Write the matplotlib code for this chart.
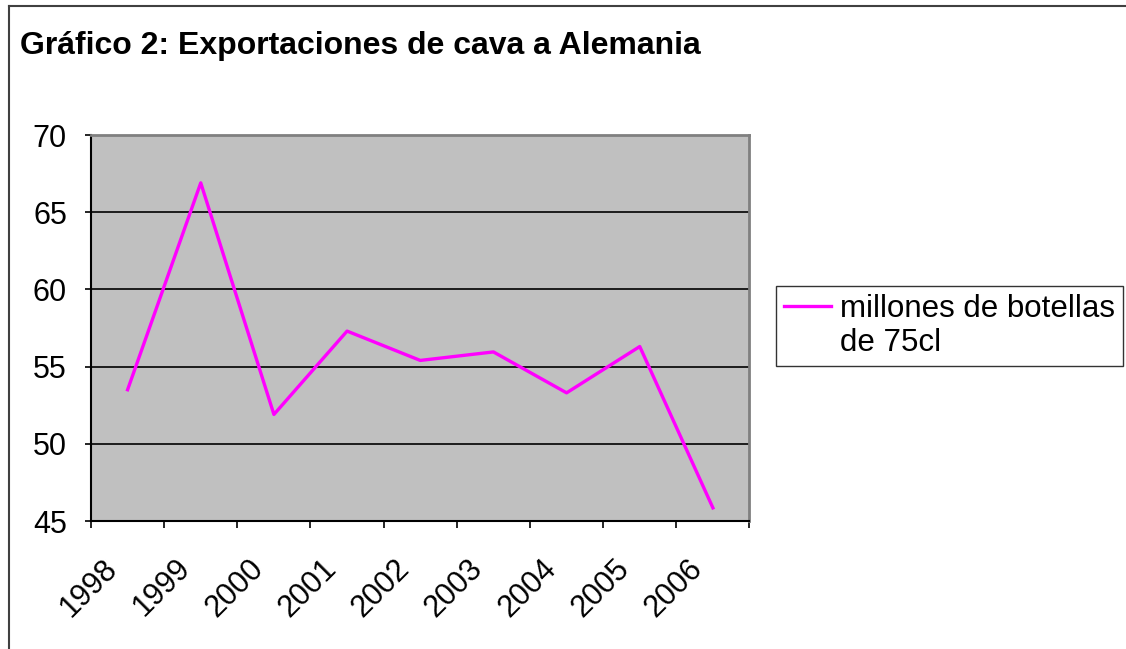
import numpy as np
import matplotlib
matplotlib.use("Agg")
import matplotlib.pyplot as plt
from matplotlib.lines import Line2D
from matplotlib.transforms import ScaledTranslation

plt.rcParams['font.family'] = ['Liberation Sans', 'DejaVu Sans']

# datos
years = ['1998', '1999', '2000', '2001', '2002', '2003', '2004', '2005', '2006']
botellas = [53.5, 66.9, 51.9, 57.3, 55.4, 55.95, 53.3, 56.3, 45.85]
serie = ['millones de botellas', 'de 75cl']
titulo = 'Gráfico 2: Exportaciones de cava a Alemania'

W, H = 1126, 649
fig = plt.figure(figsize=(W / 100, H / 100), dpi=100)
ax = fig.add_axes([91 / W, 1 - 521 / H, (749.5 - 91) / W, (521 - 135) / H])

x = np.arange(len(years))
linea, = ax.plot(x, botellas, color='#FF00FF', lw=2.4)

ax.set_facecolor('#C0C0C0')
ax.set_xlim(-0.5, len(years) - 0.5)
ax.set_ylim(45, 70)
ax.set_yticks(np.arange(45, 71, 5))
ax.grid(axis='y', color='black', lw=1.2)
ax.set_axisbelow(True)

# marcas entre categorías, etiquetas en el centro
ax.set_xticks(np.arange(-0.5, len(years), 1.0))
ax.set_xticklabels([])
ax.set_xticks(x, minor=True)
ax.set_xticklabels(years, minor=True, rotation=45, ha='right', va='center',
                   rotation_mode='anchor', fontsize=22)
ax.tick_params(axis='x', which='minor', length=0, pad=0)
ax.tick_params(axis='x', which='major', direction='out', length=5, width=1.2)
ax.tick_params(axis='y', direction='out', length=4.3, width=1.2, labelsize=22, pad=13)
off = ScaledTranslation(-15 / 100, -43 / 100, fig.dpi_scale_trans)
for lab in ax.get_xticklabels(minor=True):
    lab.set_transform(lab.get_transform() + off)

for s in ['top', 'right']:
    ax.spines[s].set_color('#808080')
    ax.spines[s].set_linewidth(2)
for s in ['left', 'bottom']:
    ax.spines[s].set_color('black')
    ax.spines[s].set_linewidth(1.5)

fig.text(20 / W, 1 - 46 / H, titulo, fontsize=23, fontweight='bold', va='center')

# leyenda: la línea va junto a la primera línea del texto
vacio = Line2D([], [], color='none')
leg = fig.legend([linea, vacio], serie, loc='upper left',
                 bbox_to_anchor=(776 / W, 1 - 286 / H),
                 bbox_transform=fig.transFigure, fontsize=22.5, frameon=True,
                 fancybox=False, edgecolor='black', borderaxespad=0,
                 handlelength=1.5, handletextpad=0.3, borderpad=0.25,
                 labelspacing=0.15)
leg.get_frame().set_linewidth(1)

# marco del gráfico
fig.add_artist(Line2D([8.5 / W, 8.5 / W], [0, 1 - 6 / H], color='#404040', lw=1.5))
fig.add_artist(Line2D([8.5 / W, 1], [1 - 6 / H, 1 - 6 / H], color='#404040', lw=1.5))

fig.savefig('out.png', dpi=100)
